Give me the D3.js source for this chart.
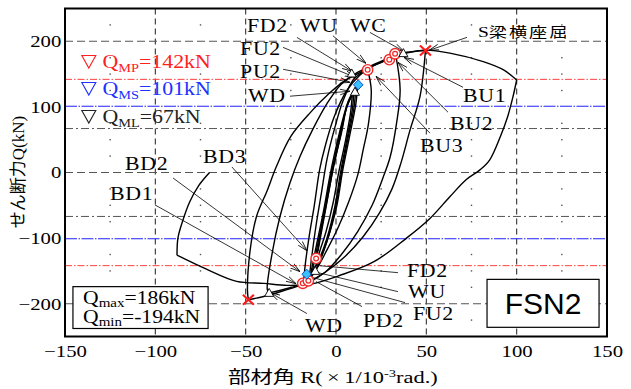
<!DOCTYPE html>
<html>
<head>
<meta charset="utf-8">
<script src="https://cdn.jsdelivr.net/npm/d3@7"></script>
<style>
  body { margin: 0; background: #fff; }
  svg { display: block; }
</style>
</head>
<body>
<svg id="chart" width="631" height="389"></svg>
<script>
// axis ticks and grid
const xTicks = [-150, -100, -50, 0, 50, 100, 150];
const yTicks = [-200, -100, 0, 100, 200];
const gridX = [-100, -50, 0, 50, 100];
const gridY = [-200, 0, 200];
const dotX = [-125, -75, -25, 25, 75, 125];
const dotY = [-225, -175, -150, -125, -75, -50, -25, 25, 50, 75, 125, 150, 175, 225];

// calculated strengths (kN)
const strengthKeys = ['MP', 'MS', 'ML'];
const strengthValues = [142, 101, 67];

const qMax = 186;
const qMin = -194;
const specimen = 'FSN2';

// hysteresis branches: [R (x1/10^-3 rad), Q (kN)], in loading order
const small1Up = [[-10, -120], [-7, -75], [-4, -30], [-1, 15], [3, 60], [6, 100], [9, 118]];
const small1Down = [[9, 118], [8, 90], [5, 45], [1.5, 0], [-1.5, -45], [-5.5, -90], [-9, -120], [-11, -138]];
const small2Up = [[-11, -138], [-9, -100], [-5.5, -50], [-2, 0], [2, 50], [6, 100], [10, 126]];
const small2Down = [[10, 126], [9, 95], [6, 50], [2.5, 0], [-0.5, -50], [-5, -100], [-9, -130], [-13, -150]];
const small3Up = [[-13, -150], [-10.5, -115], [-6.5, -60], [-2.5, 0], [1.5, 50], [6.5, 105], [11, 130]];
const small3Down = [[11, 130], [10, 100], [6.5, 50], [3, 0], [0, -50], [-5, -105], [-10, -138], [-14, -155]];
const small4Up = [[-14, -155], [-11.5, -120], [-7, -60], [-3, 0], [1, 50], [7, 110], [12, 134]];
const small4Down = [[12, 134], [11, 105], [7.5, 55], [3.5, 0], [0.5, -50], [-5, -105], [-10, -142], [-15, -165]];
const midUp = [[-15, -165], [-13.5, -130], [-11, -80], [-8, -30], [-5, 20], [-1, 65], [4, 110], [10, 143], [17.5, 157]];
const midDown = [[17.5, 157], [19.5, 126], [18, 75], [15, 34], [12, -4], [7, -45], [1, -85], [-5, -118], [-11, -148], [-18, -169]];
const largeUp1 = [[-18, -169], [-17, -140], [-15, -100], [-12, -50], [-9, 5], [-6, 40], [-1, 85], [6, 125], [13, 148], [20, 162], [26, 169], [33, 180]];
const largeDown1 = [[33, 180], [35.5, 126], [33.5, 75], [30, 24], [26, -8], [20, -50], [12, -90], [3, -125], [-6, -152], [-15, -167], [-26, -176], [-37, -183.5]];
const largeUp2 = [[-37, -183.5], [-38, -179], [-35, -118], [-31, -67], [-25.5, -16], [-20, 24], [-13, 65], [-5, 105], [3, 135], [11, 151], [19, 162], [28, 173], [37, 182], [49.5, 186]];
const largeDown2 = [[49.5, 186], [46.5, 116], [41, 65], [36, 15], [31, -25], [24, -62], [15, -98], [5, -128], [-6, -152], [-17, -169], [-30, -181], [-40, -189], [-48.5, -194]];
const finalUp = [[-48.5, -194], [-49, -180], [-47.5, -118], [-44, -67], [-38, -27], [-33, 9], [-25, 55], [-14, 92], [-4, 120], [5, 140], [13, 152], [21, 163], [30, 174], [39, 182], [49.5, 186.5], [63, 182], [81.5, 169], [93, 156], [100, 141]];
const finalDown = [[100, 141], [98, 116], [95, 85], [91, 55], [85, 19], [79.7, 4], [72, -11], [63, -37], [52, -70], [39, -100], [21, -136], [2, -157], [-14, -170], [-27, -172], [-40, -169], [-55, -166], [-72, -147], [-88, -126]];
const finalEnd = [[-88, -126], [-87.5, -100], [-85, -75], [-81, -45], [-76, -20], [-70, 0]];

const branches = [
  small1Up, small1Down, small2Up, small2Down, small3Up, small3Down, small4Up, small4Down,
  midUp, midDown, largeUp1, largeDown1, largeUp2, largeDown2, finalUp, finalDown, finalEnd,
];

// event markers
const bucklePoints = [[17.5, 156.5], [29.5, 172], [32.7, 181], [-11, -131], [-18.4, -169], [-15.3, -165]];
const peakPoints = [[12.3, 133.6], [-16.2, -155]];
const crackPoints = [[10.5, 123], [8.7, 151], [37.3, 182], [-37, -183.5], [-11.5, -150]];
const lateralPoints = [[49.5, 186], [-48.5, -194]];

// notes: text position, leader from / to (data units)
const notes = [
  { text: 'FD2', at: [-49.3, 213.5], from: [-21.6, 205.9], to: [8.9, 154.3], arrow: true },
  { text: 'WU', at: [-19.9, 213.5], from: [-1.7, 208.4], to: [16.6, 166.4], arrow: true },
  { text: 'WC', at: [7.7, 213.5], from: [18.8, 213.5], to: [37.6, 184.6], arrow: true },
  { text: 'FU2', at: [-53.1, 178.6], from: [-29.3, 190.7], to: [10.5, 145.1], arrow: true },
  { text: 'PU2', at: [-53.1, 143.6], from: [-29.3, 157.3], to: [7.7, 137.5], arrow: true },
  { text: 'WD', at: [-48.7, 107.1], from: [-25.5, 116.3], to: [7.7, 123.9], arrow: true },
  { text: 'BU1', at: [70.3, 107.1], from: [70.3, 129.9], to: [37.6, 175.5], arrow: true },
  { text: 'BU2', at: [63.1, 64.6], from: [62, 91.9], to: [34.3, 167.9], arrow: true },
  { text: 'BU3', at: [46.5, 31.2], from: [52, 60], to: [22.1, 146.7], arrow: true },
  { text: 'BD2', at: [-116.8, 3.8], from: [-90.2, -8.4], to: [-19.9, -151.2], arrow: true },
  { text: 'BD3', at: [-73.6, 14.4], from: [-57.6, 8.4], to: [-16.1, -119.3], arrow: true },
  { text: 'BD1', at: [-125.1, -41.8], from: [-100.2, -49.4], to: [-22.1, -169.5], arrow: true },
  { text: 'FD2', at: [39.3, -158.8], from: [34.3, -152.7], to: [-8.9, -142.1], arrow: false },
  { text: 'WU', at: [39.9, -190.7], from: [34.3, -181.6], to: [-10, -152.7], arrow: false },
  { text: 'FU2', at: [42.6, -224.2], from: [38.2, -198.3], to: [-12.7, -160.3], arrow: false },
  { text: 'PD2', at: [14.9, -234.8], from: [14.4, -204.4], to: [-11.1, -166.3], arrow: false },
  { text: 'WD', at: [-17.2, -242.4], from: [-16.1, -215], to: [-36.5, -183.1], arrow: true },
];
const lateralNote = { text: '梁横座屈', at: [78.6, 206], from: [72.5, 206], to: [51.5, 186.2] };

const width = 631;
const height = 389;
const margin = { top: 8.5, right: 24, bottom: 52.5, left: 65 };
const serif = '"Liberation Serif", "Times New Roman", serif';
const cjk = '"Noto Sans CJK JP", sans-serif';
const stretch = 1.15;

const svg = d3.select('#chart');

const x = d3.scaleLinear().domain([-150, 150]).range([margin.left, width - margin.right]);
const y = d3.scaleLinear().domain([-250, 250]).range([height - margin.bottom, margin.top]);

const defs = svg.append('defs');
defs
  .append('marker')
  .attr('id', 'arrow')
  .attr('viewBox', '0 -4 10 8')
  .attr('refX', 10)
  .attr('refY', 0)
  .attr('markerWidth', 10)
  .attr('markerHeight', 8)
  .attr('markerUnits', 'userSpaceOnUse')
  .attr('orient', 'auto')
  .append('path')
  .attr('d', 'M0,-2.8L10,0L0,2.8')
  .attr('fill', 'none')
  .attr('stroke', '#000')
  .attr('stroke-width', 0.8);

// minor dot grid
const dots = [];
dotX.forEach((a) => dotY.forEach((b) => dots.push([a, b])));
svg
  .append('g')
  .selectAll('rect')
  .data(dots)
  .join('rect')
  .attr('x', (d) => x(d[0]) - 0.7)
  .attr('y', (d) => y(d[1]) - 0.7)
  .attr('width', 1.4)
  .attr('height', 1.4)
  .attr('fill', '#555');

// dashed grid
svg
  .append('g')
  .selectAll('line')
  .data(gridX)
  .join('line')
  .attr('x1', (d) => x(d))
  .attr('x2', (d) => x(d))
  .attr('y1', y(250))
  .attr('y2', y(-250))
  .attr('stroke', '#333')
  .attr('stroke-width', 1.1)
  .attr('stroke-dasharray', '6,4');
svg
  .append('g')
  .selectAll('line')
  .data(gridY)
  .join('line')
  .attr('x1', x(-150))
  .attr('x2', x(150))
  .attr('y1', (d) => y(d))
  .attr('y2', (d) => y(d))
  .attr('stroke', '#555')
  .attr('stroke-width', 1.1)
  .attr('stroke-dasharray', '8,4');

// strength levels
const levelColor = ['#ff4040', '#2020ff', '#555'];
const levelDash = ['7,2,1.5,2', '12,1.5,1.5,1.5', '8,3,2,3'];
strengthValues.forEach((v, i) => {
  [v, -v].forEach((q) => {
    svg
      .append('line')
      .attr('x1', x(-150))
      .attr('x2', x(150))
      .attr('y1', y(q))
      .attr('y2', y(q))
      .attr('stroke', levelColor[i])
      .attr('stroke-width', 1)
      .attr('stroke-dasharray', levelDash[i]);
  });
});

// hysteresis curve
const line = d3
  .line()
  .x((d) => x(d[0]))
  .y((d) => y(d[1]))
  .curve(d3.curveCatmullRom.alpha(0.5));
svg
  .append('g')
  .selectAll('path')
  .data(branches)
  .join('path')
  .attr('d', line)
  .attr('fill', 'none')
  .attr('stroke', '#000')
  .attr('stroke-width', 1.4)
  .attr('stroke-linejoin', 'round');

// leaders
const notesG = svg.append('g');
notesG
  .selectAll('line')
  .data(notes.concat([lateralNote]))
  .join('line')
  .attr('x1', (d) => x(d.from[0]))
  .attr('y1', (d) => y(d.from[1]))
  .attr('x2', (d) => x(d.to[0]))
  .attr('y2', (d) => y(d.to[1]))
  .attr('stroke', '#000')
  .attr('stroke-width', 0.8)
  .attr('marker-end', (d) => (d.arrow === false ? null : 'url(#arrow)'));

function stext(g, px, py, size, sx) {
  return g
    .append('text')
    .attr('transform', `translate(${px},${py}) scale(${sx},1)`)
    .style('font-family', serif)
    .style('font-size', size + 'px');
}

notes.forEach((n) => {
  stext(notesG, x(n.at[0]), y(n.at[1]), 19, stretch)
    .attr('letter-spacing', 0.6)
    .text(n.text);
});

const lat = stext(notesG, x(lateralNote.at[0]), y(lateralNote.at[1]), 15, 1.3);
lat.append('tspan').text('S');
lat
  .append('tspan')
  .style('font-family', cjk)
  .style('font-size', '14px')
  .attr('letter-spacing', 1.5)
  .text(lateralNote.text);

// markers
const markG = svg.append('g');
const buckle = markG
  .selectAll('g.buckle')
  .data(bucklePoints)
  .join('g')
  .attr('transform', (d) => `translate(${x(d[0])},${y(d[1])})`);
buckle
  .append('circle')
  .attr('r', 5.2)
  .attr('fill', '#fff')
  .attr('stroke', '#f02828')
  .attr('stroke-width', 1.4);
buckle
  .append('circle')
  .attr('r', 2.4)
  .attr('fill', '#fff')
  .attr('stroke', '#f02828')
  .attr('stroke-width', 1.2);

markG
  .selectAll('path.peak')
  .data(peakPoints)
  .join('path')
  .attr('transform', (d) => `translate(${x(d[0])},${y(d[1])})`)
  .attr('d', 'M0,-5L4.8,0L0,5L-4.8,0Z')
  .attr('fill', '#38c0ff')
  .attr('stroke', '#1058c8')
  .attr('stroke-width', 1);

markG
  .selectAll('path.crack')
  .data(crackPoints)
  .join('path')
  .attr('transform', (d) => `translate(${x(d[0])},${y(d[1])})`)
  .attr('d', 'M0,-4.5L4.5,3.5L-4.5,3.5Z')
  .attr('fill', '#fff')
  .attr('stroke', '#000')
  .attr('stroke-width', 0.9);

const cross = markG
  .selectAll('g.cross')
  .data(lateralPoints)
  .join('g')
  .attr('transform', (d) => `translate(${x(d[0])},${y(d[1])})`);
cross
  .append('path')
  .attr('d', 'M-5.5,-5L5.5,5M-5.5,5L5.5,-5')
  .attr('stroke', '#ff1a1a')
  .attr('stroke-width', 2.2)
  .attr('fill', 'none');

// strength legend
const legendG = svg.append('g');
const legendBase = [68, 95, 123];
const legendColor = ['#ff2020', '#2030ff', '#222'];
strengthKeys.forEach((k, i) => {
  legendG
    .append('path')
    .attr('transform', `translate(${x(-140.7) + 7},${legendBase[i] - 12.5})`)
    .attr('d', 'M-7,0L7,0L0,12.5Z')
    .attr('fill', 'none')
    .attr('stroke', legendColor[i])
    .attr('stroke-width', 1.1);
  const t = stext(legendG, x(-129.3), legendBase[i], 19, stretch).attr('fill', legendColor[i]);
  t.append('tspan').text('Q');
  t.append('tspan').attr('dy', 4).style('font-size', '12.5px').text(k);
  t.append('tspan').attr('dy', -4).text('=' + strengthValues[i] + 'kN');
});

// Qmax / Qmin box
const boxG = svg.append('g');
boxG
  .append('rect')
  .attr('x', x(-145.6))
  .attr('y', y(-174))
  .attr('width', x(-70.8) - x(-145.6))
  .attr('height', y(-237.8) - y(-174))
  .attr('fill', '#fff')
  .attr('stroke', '#000')
  .attr('stroke-width', 1.2);
[['max', qMax, 303.5], ['min', qMin, 322.5]].forEach((r) => {
  const t = stext(boxG, x(-140), r[2], 18, 1.2);
  t.append('tspan').text('Q');
  t.append('tspan').attr('dy', 3.5).style('font-size', '12.5px').text(r[0]);
  t.append('tspan').attr('dy', -3.5).text('=' + r[1] + 'kN');
});

// specimen box
boxG
  .append('rect')
  .attr('x', x(83.6))
  .attr('y', y(-162.9))
  .attr('width', x(145.6) - x(83.6))
  .attr('height', y(-236) - y(-162.9))
  .attr('fill', '#fff')
  .attr('stroke', '#000')
  .attr('stroke-width', 1.2);
boxG
  .append('text')
  .attr('x', (x(83.6) + x(145.6)) / 2)
  .attr('y', y(-199.5))
  .attr('text-anchor', 'middle')
  .attr('dominant-baseline', 'central')
  .style('font-family', '"Liberation Sans", Arial, sans-serif')
  .style('font-size', '30px')
  .text(specimen);

// axes
const xAxis = svg
  .append('g')
  .attr('transform', `translate(0,${y(-250)})`)
  .call(d3.axisBottom(x).tickValues(xTicks).tickSize(0).tickPadding(8));
const yAxis = svg
  .append('g')
  .attr('transform', `translate(${x(-150)},0)`)
  .call(d3.axisLeft(y).tickValues(yTicks).tickSize(0).tickPadding(3));
[xAxis, yAxis].forEach((a) => {
  a.select('.domain').remove();
  a.selectAll('text')
    .attr('fill', '#000')
    .style('font-family', serif)
    .style('font-size', '17px')
    .attr('transform', 'scale(1.22,1)');
});

// frame
svg
  .append('rect')
  .attr('x', x(-150))
  .attr('y', y(250))
  .attr('width', x(150) - x(-150))
  .attr('height', y(-250) - y(250))
  .attr('fill', 'none')
  .attr('stroke', '#000')
  .attr('stroke-width', 2);

// axis titles
const xTitle = svg
  .append('text')
  .attr('x', 0)
  .attr('y', 0)
  .style('font-family', serif)
  .style('font-size', '17px');
xTitle.append('tspan').style('font-family', cjk).text('部材角 ');
xTitle.append('tspan').text('R(\u2009×\u20091/10');
xTitle.append('tspan').attr('dy', -6).style('font-size', '11px').text('-3');
xTitle.append('tspan').attr('dy', 6).text('rad.)');
const xw = xTitle.node().getBBox().width;
xTitle.attr('transform', `translate(228,383) scale(${210 / xw},1)`);

const yTitle = svg
  .append('text')
  .attr('transform', `translate(24,172) rotate(-90)`)
  .attr('text-anchor', 'middle')
  .style('font-family', serif)
  .style('font-size', '17px');
yTitle.append('tspan').style('font-family', cjk).text('せん断力');
yTitle.append('tspan').text('Q(kN)');
</script>
</body>
</html>
